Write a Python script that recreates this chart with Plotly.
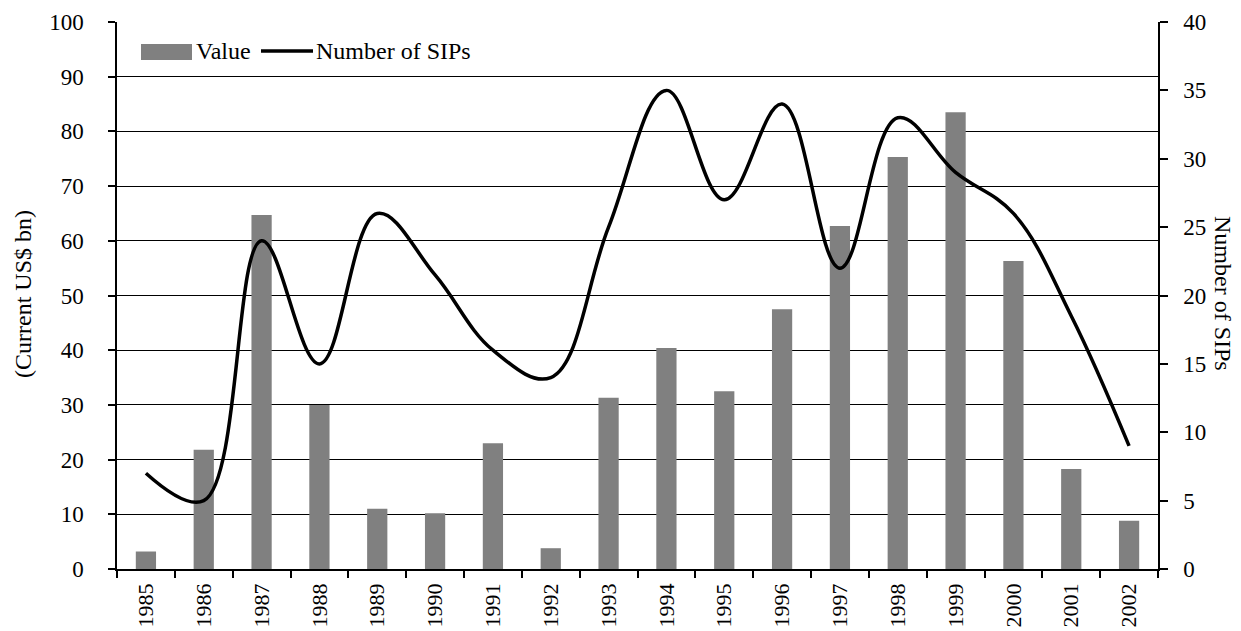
import plotly.graph_objects as go

years = ["1985", "1986", "1987", "1988", "1989", "1990", "1991", "1992", "1993",
         "1994", "1995", "1996", "1997", "1998", "1999", "2000", "2001", "2002"]
value_bn = [3.2, 21.8, 64.7, 30.0, 11.0, 10.2, 23.0, 3.8, 31.3,
            40.4, 32.5, 47.5, 62.7, 75.3, 83.5, 56.3, 18.3, 8.8]
num_sips = [7, 5, 24, 15, 26, 21.5, 16, 14, 25,
            35, 27, 34, 22, 33, 29, 26, 18.5, 9]

FONT = "Liberation Serif"
FS = 23
FX = 22
FT = 24
BAR_COLOR = "#808080"

OFF = 8  # page body margin
W, H = 1241 - OFF, 631 - OFF
L, T = 117 - OFF, 22 - OFF
R = W - (1158 - OFF)
B = H - (569 - OFF)
PW, PH = W - L - R, H - T - B


def px(x):
    return (x - OFF - L) / PW


def py(y):
    return (H - B - (y - OFF)) / PH


fig = go.Figure()
fig.add_trace(go.Bar(x=years, y=value_bn, name="Value", marker_color=BAR_COLOR,
                     marker_line_width=0, yaxis="y", showlegend=False))
fig.add_trace(go.Scatter(x=years, y=num_sips, name="Number of SIPs", mode="lines",
                         line=dict(color="black", width=3.5, shape="spline", smoothing=1.1),
                         yaxis="y2", showlegend=False))

fig.update_layout(
    width=W, height=H,
    margin=dict(l=L, r=R, t=T, b=B),
    paper_bgcolor="white", plot_bgcolor="white",
    font=dict(family=FONT, size=FS, color="black"),
    bargap=0.65,
    showlegend=False,
    xaxis=dict(type="category", tickangle=-90, showgrid=False, showline=True,
               linecolor="black", linewidth=1.5, ticks="outside", ticklen=7,
               tickwidth=1.5, tickcolor="black", tickson="boundaries",
               ticklabelstandoff=4,
               automargin=False, tickfont=dict(size=FX, family=FONT)),
    yaxis=dict(range=[0, 100], dtick=10, showgrid=True, gridcolor="black",
               gridwidth=1.2, showline=True, linecolor="black", linewidth=1.5,
               ticks="outside", ticklen=7, tickwidth=1.5, tickcolor="black",
               ticklabelstandoff=20,
               zeroline=False, automargin=False, tickfont=dict(size=FS, family=FONT)),
    yaxis2=dict(range=[0, 40], dtick=5, overlaying="y", side="right",
                showgrid=False, showline=True, linecolor="black", linewidth=1.5,
                ticks="outside", ticklen=8, tickwidth=1.5, tickcolor="black",
                ticklabelstandoff=11,
                zeroline=False, automargin=False, tickfont=dict(size=FS, family=FONT)),
)

# axis titles
fig.add_annotation(text="(Current US$ bn)", xref="paper", yref="paper",
                   x=px(23), y=py(294), textangle=-90, showarrow=False,
                   font=dict(size=FT, family=FONT), xanchor="center", yanchor="middle")
fig.add_annotation(text="Number of SIPs", xref="paper", yref="paper",
                   x=px(1223), y=py(293), textangle=90, showarrow=False,
                   font=dict(size=FT, family=FONT), xanchor="center", yanchor="middle")

# legend drawn manually
fig.add_shape(type="rect", xref="paper", yref="paper",
              x0=px(141), x1=px(192), y0=py(60), y1=py(44),
              fillcolor=BAR_COLOR, line_width=0)
fig.add_annotation(text="Value", xref="paper", yref="paper", x=px(194), y=py(51),
                   xanchor="left", yanchor="middle", showarrow=False,
                   font=dict(size=FT, family=FONT))
fig.add_shape(type="line", xref="paper", yref="paper",
              x0=px(261), x1=px(313), y0=py(51), y1=py(51),
              line=dict(color="black", width=3.5))
fig.add_annotation(text="Number of SIPs", xref="paper", yref="paper", x=px(314), y=py(51),
                   xanchor="left", yanchor="middle", showarrow=False,
                   font=dict(size=FT, family=FONT))

fig.write_html("out.html")
